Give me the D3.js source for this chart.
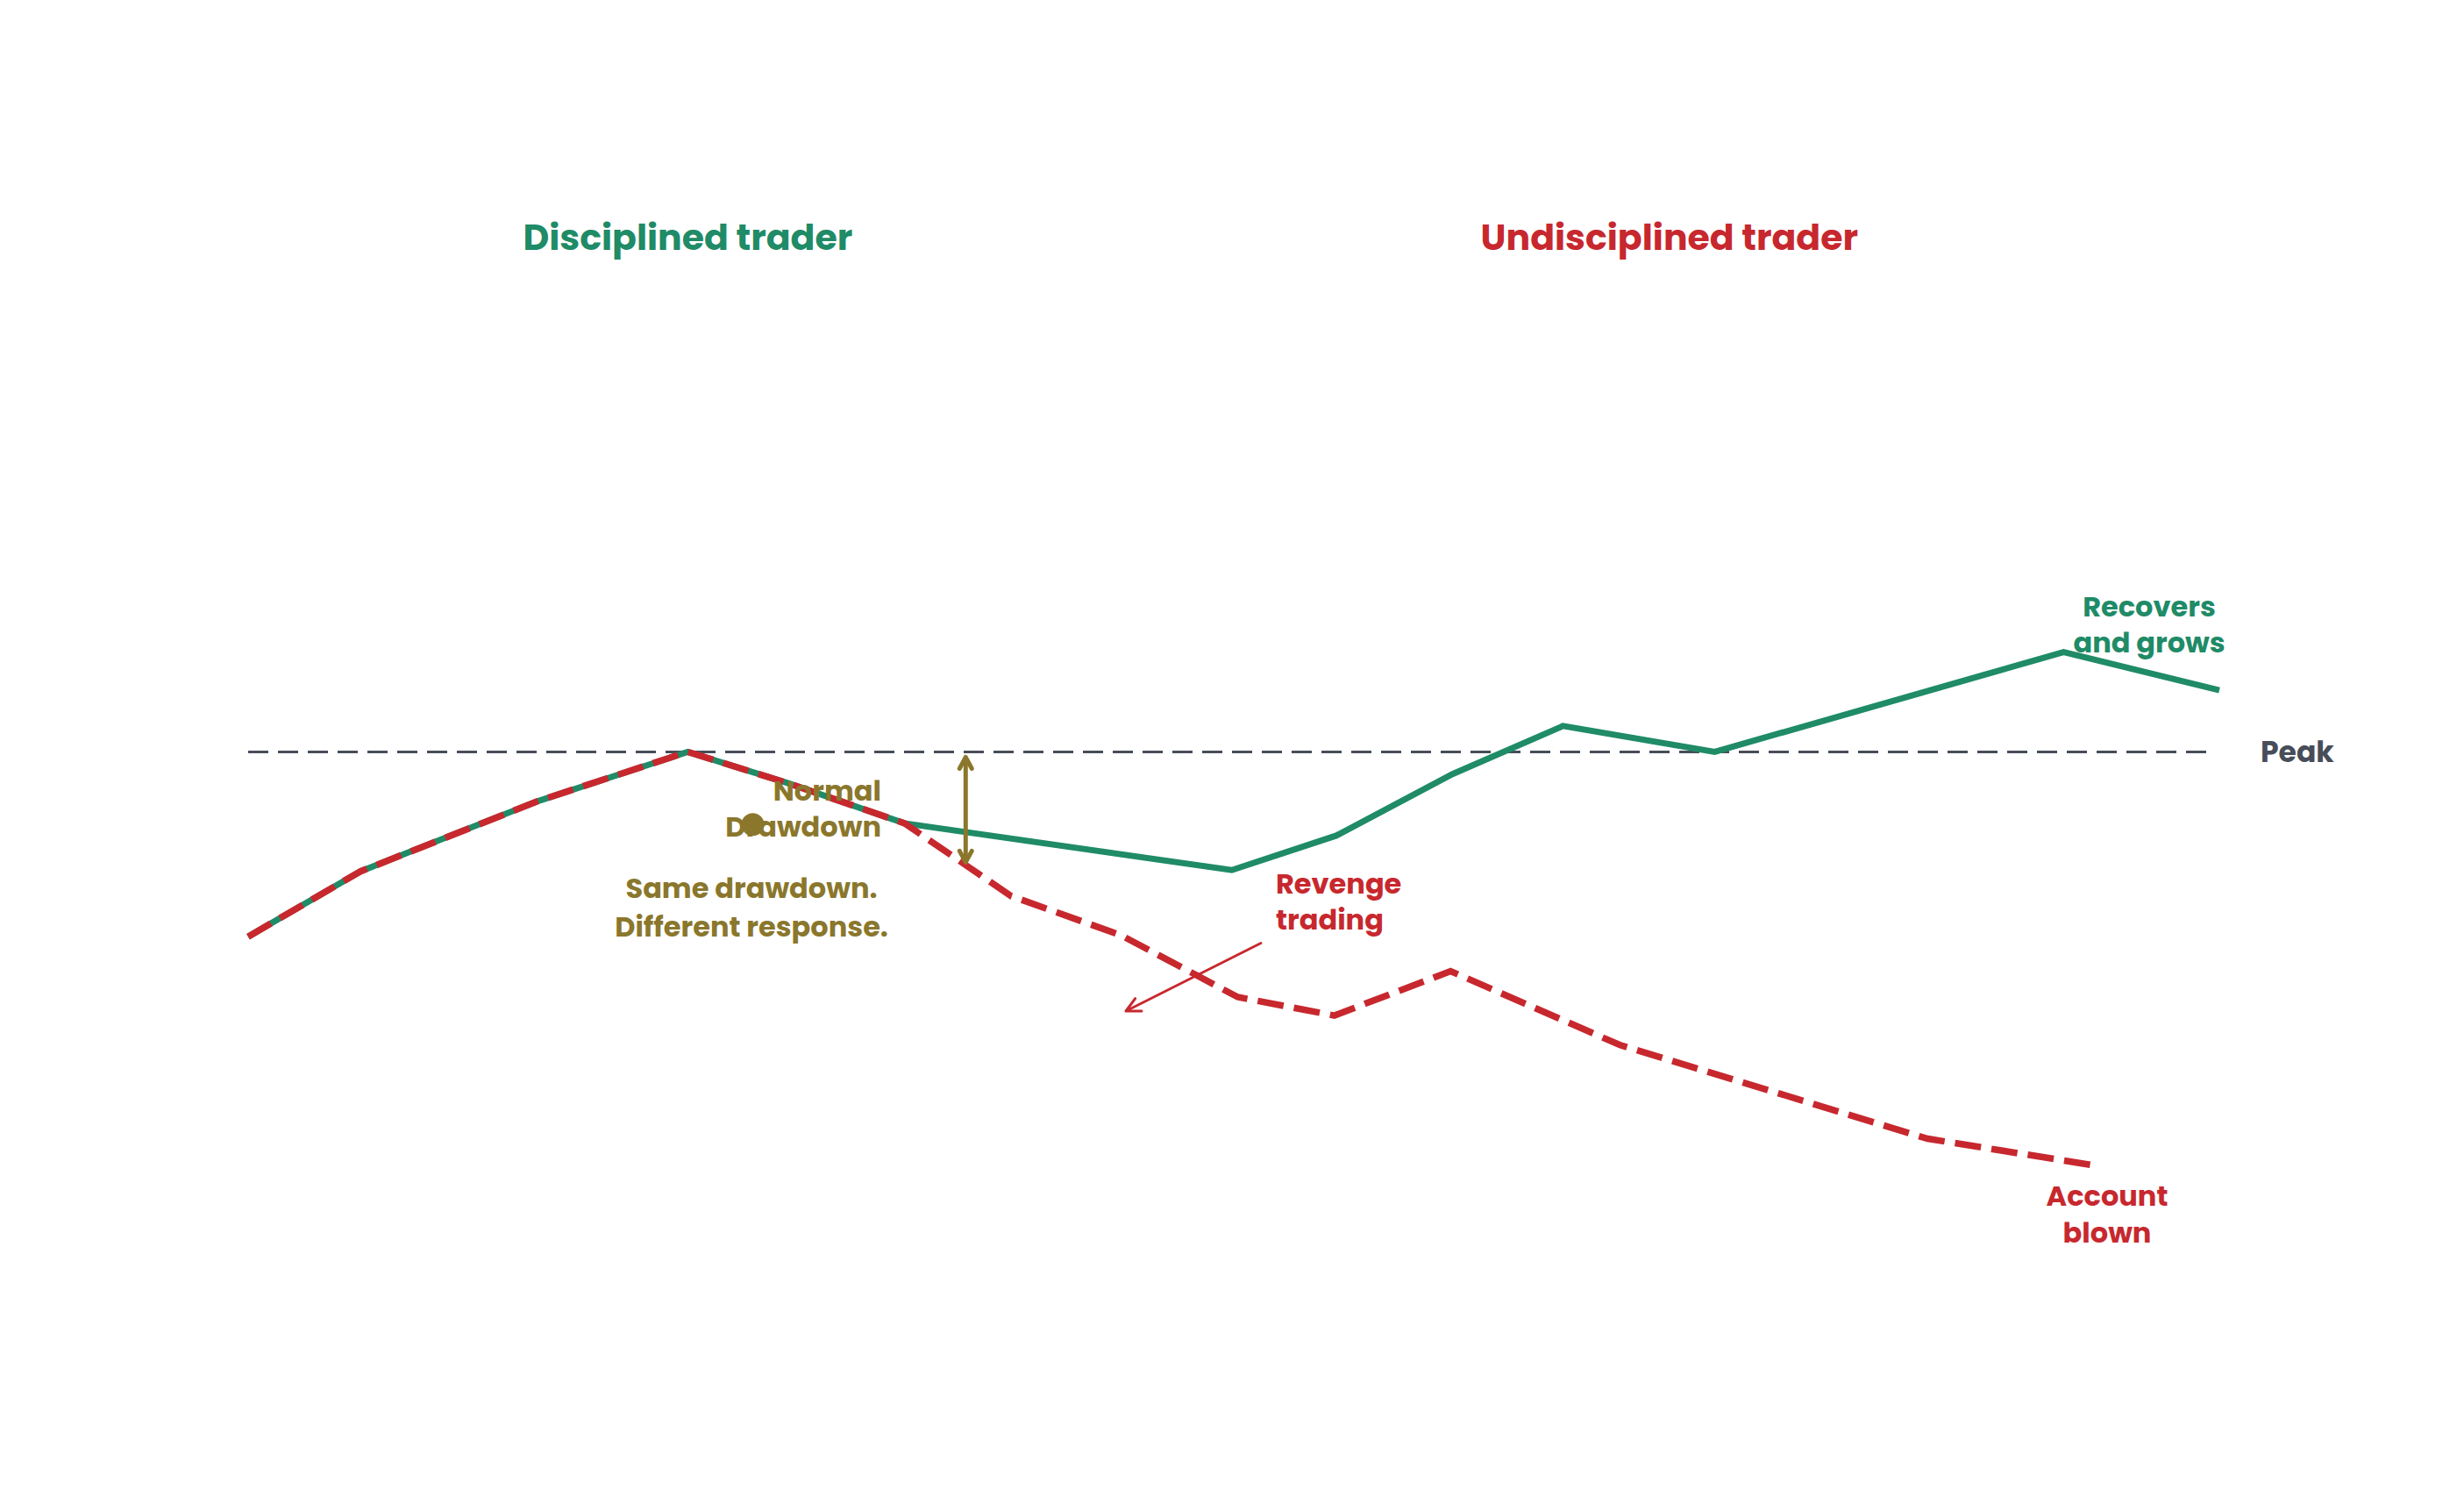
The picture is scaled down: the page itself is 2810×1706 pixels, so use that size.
<!DOCTYPE html>
<html>
<head>
<meta charset="utf-8">
<script src="https://cdn.jsdelivr.net/npm/d3@7"></script>
<style>
  body { margin: 0; background: #ffffff; }
  text { font-family: "Poppins", "Inter", "Open Sans", sans-serif; font-weight: 700; }
</style>
</head>
<body>
<div id="container"></div>
<script>
let w = 2810;
let h = 1706;

// equity curves, x in % of the period, y with the peak = 100
let disciplinedX = [0, 5.7, 14.7, 22.3, 27.5, 33.3, 49.9, 55.2, 61.1, 66.7, 74.4, 92.1, 100];
let disciplinedY = [85.0, 90.3, 96.0, 100, 97.4, 94.2, 90.4, 93.2, 98.2, 102.1, 100, 108.1, 105.0];

let undisciplinedX = [0, 5.7, 14.7, 22.3, 27.5, 33.3, 38.7, 44.3, 50.2, 55.1, 61.0, 69.6, 85.2, 93.8];
let undisciplinedY = [85.0, 90.3, 96.0, 100, 97.4, 94.2, 88.3, 85.1, 80.1, 78.6, 82.2, 76.2, 68.6, 66.4];

let peakValue = 100;
let titles = ["Disciplined trader", "Undisciplined trader"];

let green = "#1f8b67";
let red = "#c7282e";
let olive = "#8a772c";
let grey = "#474d59";

let viz = d3.select("#container")
  .append("svg")
    .attr("width", w)
    .attr("height", h)
    .style("background-color", "white")
;

let xScale = d3.scaleLinear().domain([0, 100]).range([283, 2531]);
let yScale = d3.scaleLinear().domain([60, 120]).range([1419.4, 576.4]);

let line = d3.line()
  .x(function(d){ return xScale(d[0]); })
  .y(function(d){ return yScale(d[1]); })
;

let greenData = d3.zip(disciplinedX, disciplinedY);
let redData = d3.zip(undisciplinedX, undisciplinedY);

// chevron arrow heads
let defs = viz.append("defs");
function chevron(id, color, len, half, sw){
  defs.append("marker")
      .attr("id", id)
      .attr("viewBox", (-len - sw) + " " + (-half - sw) + " " + (len + 2 * sw) + " " + (2 * half + 2 * sw))
      .attr("refX", 0)
      .attr("refY", 0)
      .attr("markerWidth", len + 2 * sw)
      .attr("markerHeight", 2 * half + 2 * sw)
      .attr("markerUnits", "userSpaceOnUse")
      .attr("orient", "auto-start-reverse")
    .append("path")
      .attr("d", "M" + (-len) + "," + (-half) + " L0,0 L" + (-len) + "," + half)
      .attr("fill", "none")
      .attr("stroke", color)
      .attr("stroke-width", sw)
      .attr("stroke-linecap", "round")
      .attr("stroke-linejoin", "round")
  ;
}
chevron("oliveHead", olive, 13, 7, 5);
chevron("redHead", red, 16, 8, 3);

// titles
viz.append("text")
    .attr("x", xScale(22.3))
    .attr("y", 285)
    .attr("text-anchor", "middle")
    .attr("font-size", 41)
    .attr("fill", green)
    .text(titles[0])
;
viz.append("text")
    .attr("x", xScale(72.1))
    .attr("y", 285)
    .attr("text-anchor", "middle")
    .attr("font-size", 41)
    .attr("fill", red)
    .text(titles[1])
;

// peak reference
viz.append("line")
    .attr("x1", xScale(0))
    .attr("x2", xScale(99.6))
    .attr("y1", yScale(peakValue))
    .attr("y2", yScale(peakValue))
    .attr("stroke", grey)
    .attr("stroke-width", 3)
    .attr("stroke-dasharray", "23,11")
;
viz.append("text")
    .attr("x", 2578)
    .attr("y", yScale(peakValue) + 12)
    .attr("font-size", 33)
    .attr("fill", grey)
    .text("Peak")
;

// lines
viz.append("path")
    .datum(greenData)
    .attr("d", line)
    .attr("fill", "none")
    .attr("stroke", green)
    .attr("stroke-width", 7)
    .attr("stroke-linejoin", "miter")
;
viz.append("path")
    .datum(redData)
    .attr("d", line)
    .attr("fill", "none")
    .attr("stroke", red)
    .attr("stroke-width", 7.5)
    .attr("stroke-dasharray", "30,12")
;

// annotations
function multiLine(x, y, lines, anchor, color, size, gap){
  let t = viz.append("text")
      .attr("x", x)
      .attr("y", y)
      .attr("text-anchor", anchor)
      .attr("font-size", size)
      .attr("fill", color)
  ;
  lines.forEach(function(s, i){
    t.append("tspan")
        .attr("x", x)
        .attr("dy", i == 0 ? 0 : gap)
        .text(s);
  });
}

multiLine(1005, 913, ["Normal", "Drawdown"], "end", olive, 32, 41);
multiLine(857, 1024, ["Same drawdown.", "Different response."], "middle", olive, 32, 44);
multiLine(1455, 1019, ["Revenge", "trading"], "start", red, 32, 41);
multiLine(2451, 703, ["Recovers", "and grows"], "middle", green, 32, 41);
multiLine(2403, 1375, ["Account", "blown"], "middle", red, 32, 42);

viz.append("circle")
    .attr("cx", xScale(25.6))
    .attr("cy", yScale(94.1))
    .attr("r", 13)
    .attr("fill", olive)
;

// drawdown double arrow
viz.append("line")
    .attr("x1", xScale(36.4))
    .attr("x2", xScale(36.4))
    .attr("y1", yScale(99.57))
    .attr("y2", yScale(91.03))
    .attr("stroke", olive)
    .attr("stroke-width", 5)
    .attr("marker-start", "url(#oliveHead)")
    .attr("marker-end", "url(#oliveHead)")
;

// revenge trading pointer
viz.append("line")
    .attr("x1", 1439)
    .attr("y1", 1075)
    .attr("x2", 1284)
    .attr("y2", 1153)
    .attr("stroke", red)
    .attr("stroke-width", 3)
    .attr("marker-end", "url(#redHead)")
;
</script>
</body>
</html>
